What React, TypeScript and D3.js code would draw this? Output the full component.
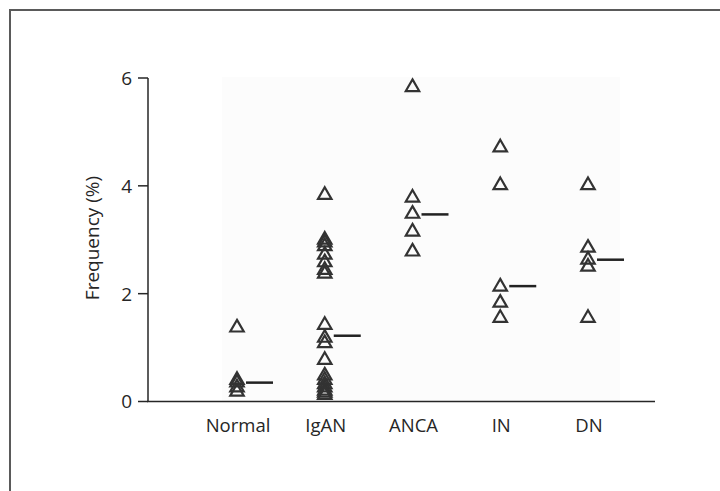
import React, { useRef, useEffect } from "react";
import * as d3 from "d3";

const categories = ["Normal", "IgAN", "ANCA", "IN", "DN"];

const normalValues = [1.37, 0.4, 0.35, 0.26, 0.18];
const iganValues = [3.83, 3.0, 2.95, 2.88, 2.72, 2.58, 2.44, 2.37, 1.42, 1.18, 1.08, 0.77, 0.48, 0.4, 0.32, 0.26, 0.2, 0.16, 0.12];
const ancaValues = [5.83, 3.78, 3.48, 3.15, 2.78];
const inValues = [4.71, 4.01, 2.13, 1.83, 1.55];
const dnValues = [4.01, 2.85, 2.63, 2.5, 1.55];

const medians = [0.35, 1.22, 3.47, 2.14, 2.63];
const yTicks = [0, 2, 4, 6];

const groups = [normalValues, iganValues, ancaValues, inValues, dnValues];

export default function App() {
  const svgRef = useRef(null);

  useEffect(() => {
    const svg = d3.select(svgRef.current);
    svg.selectAll("*").remove();

    const font = "'Open Sans', 'DejaVu Sans', sans-serif";
    const ink = "#262626";

    // outer frame
    svg
      .append("rect")
      .attr("x", 10)
      .attr("y", 10)
      .attr("width", 760)
      .attr("height", 540)
      .attr("fill", "none")
      .attr("stroke", "#5a5a5a")
      .attr("stroke-width", 2);

    const x = d3.scalePoint().domain(categories).range([237, 588]);
    const y = d3.scaleLinear().domain([0, 6]).range([401.5, 78]);

    // faint plot background
    svg
      .append("rect")
      .attr("x", 222)
      .attr("y", y(6) - 1)
      .attr("width", 398)
      .attr("height", y(0) - y(6) + 1)
      .attr("fill", "#fcfcfc");

    // y axis
    const yAxis = svg.append("g").attr("transform", "translate(148,0)");
    yAxis
      .append("line")
      .attr("x1", 0)
      .attr("x2", 0)
      .attr("y1", y(6))
      .attr("y2", y(0))
      .attr("stroke", ink)
      .attr("stroke-width", 1.5);
    yAxis
      .selectAll(".tick")
      .data(yTicks)
      .enter()
      .append("line")
      .attr("x1", -10)
      .attr("x2", 0)
      .attr("y1", (d) => y(d))
      .attr("y2", (d) => y(d))
      .attr("stroke", ink)
      .attr("stroke-width", 1.5);
    yAxis
      .selectAll(".label")
      .data(yTicks)
      .enter()
      .append("text")
      .attr("x", -16)
      .attr("y", (d) => y(d))
      .attr("dy", "0.36em")
      .attr("text-anchor", "end")
      .style("font-family", font)
      .style("font-size", "19px")
      .attr("fill", ink)
      .text((d) => d);

    // x axis
    svg
      .append("line")
      .attr("x1", 147)
      .attr("x2", 655)
      .attr("y1", y(0))
      .attr("y2", y(0))
      .attr("stroke", ink)
      .attr("stroke-width", 1.5);
    svg
      .selectAll(".xlabel")
      .data(categories)
      .enter()
      .append("text")
      .attr("x", (d) => x(d) + 1)
      .attr("y", 432)
      .attr("text-anchor", "middle")
      .style("font-family", font)
      .style("font-size", "18.5px")
      .attr("fill", ink)
      .text((d) => d);

    // axis title
    svg
      .append("text")
      .attr("transform", "translate(99,238) rotate(-90)")
      .attr("text-anchor", "middle")
      .style("font-family", font)
      .style("font-size", "19px")
      .attr("fill", ink)
      .text("Frequency (%)");

    // points
    const tri = d3.symbol(d3.symbolTriangle, 78);
    groups.forEach((vals, i) => {
      svg
        .append("g")
        .selectAll("path")
        .data(vals)
        .enter()
        .append("path")
        .attr("d", tri)
        .attr("transform", (d) => `translate(${x(categories[i])},${y(d)})`)
        .attr("fill", "none")
        .attr("stroke", "#333")
        .attr("stroke-width", 2.2)
        .attr("stroke-linejoin", "miter");
    });

    // median lines
    svg
      .selectAll(".median")
      .data(medians)
      .enter()
      .append("line")
      .attr("x1", (d, i) => x(categories[i]) + 9)
      .attr("x2", (d, i) => x(categories[i]) + 36)
      .attr("y1", (d) => y(d))
      .attr("y2", (d) => y(d))
      .attr("stroke", "#222")
      .attr("stroke-width", 2.5);
  }, []);

  return (
    <svg
      ref={svgRef}
      width={720}
      height={491}
      style={{ position: "absolute", left: 0, top: 0, background: "#fff" }}
    />
  );
}
